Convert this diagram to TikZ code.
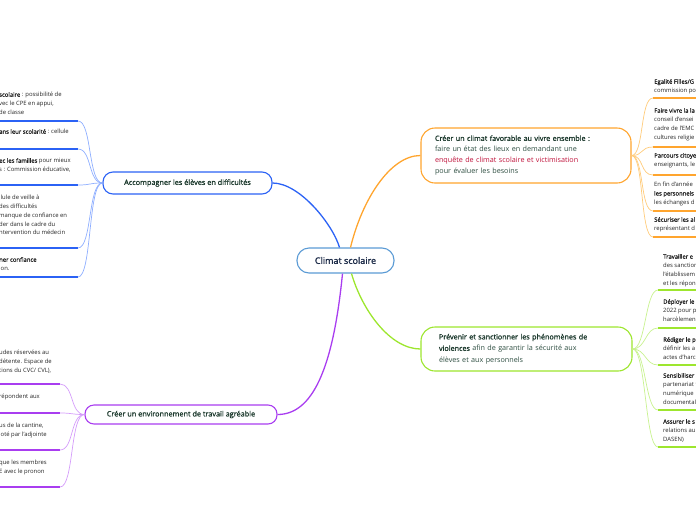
\documentclass[tikz,border=0pt]{standalone}
\usepackage{fontspec}
\setmainfont{Open Sans}
\newfontfamily\sbfont[FakeBold=1.3]{Open Sans}
\newcommand{\sbf}[1]{{\sbfont #1}}
\definecolor{cblue}{HTML}{2B62F5}
\definecolor{lblue}{HTML}{8EAEFF}
\definecolor{corange}{HTML}{FFA52E}
\definecolor{lorange}{HTML}{FFCB7A}
\definecolor{cgreen}{HTML}{9DE62E}
\definecolor{lgreen}{HTML}{C8F28F}
\definecolor{cpurple}{HTML}{A93DF0}
\definecolor{lpurple}{HTML}{D49CFA}
\definecolor{ccenter}{HTML}{5B9BD5}
\definecolor{ntext}{HTML}{1D3A2E}
\definecolor{ctext}{HTML}{1B2A47}
\definecolor{rtext}{HTML}{2F4F42}
\definecolor{crimson}{HTML}{C0143C}
\definecolor{leaftext}{HTML}{262626}
\begin{document}
\begin{tikzpicture}[x=1pt,y=-1pt,
  leaf/.style={anchor=north west, inner sep=0pt, align=left, text=leaftext,
    font=\fontsize{5.9}{8.8}\selectfont},
  topic/.style={draw, rounded corners=9pt, line width=1.1pt, fill=white, inner sep=0pt,
    text=ntext, font=\sbfont\fontsize{7.3}{11}\selectfont},
  branch/.style={line width=1.3pt},
  twig/.style={line width=0.7pt},
  uline/.style={line width=1.6pt}]
\useasboundingbox (0,0) rectangle (696,520);

% central and main topics
\node[topic, draw=ccenter, minimum width=97pt, minimum height=25pt, rounded corners=12pt,
  text=ctext, font=\sbfont\fontsize{9}{10}\selectfont] (c) at (345.5,260.5) {Climat scolaire};
\node[topic, draw=cblue, minimum width=169pt, minimum height=22pt, rounded corners=10pt] (b) at (187.5,183) {Accompagner les élèves en difficultés};
\node[topic, draw=cpurple, minimum width=192pt, minimum height=19pt] (p) at (181,414.5) {Créer un environnement de travail agréable};
\node[topic, draw=corange, minimum width=210pt, minimum height=55pt, rounded corners=14pt,
  text width=182pt, align=left, text=rtext, font=\fontsize{7.2}{11}\selectfont] (o) at (526,155.5)
  {\sbf{\color{ntext}Créer un climat favorable au vivre ensemble :}\\
   faire un état des lieux en demandant une\\
   {\color{crimson}enquête de climat scolaire et victimisation}\\
   pour évaluer les besoins};
\node[topic, draw=cgreen, minimum width=211pt, minimum height=44pt, rounded corners=14pt,
  text width=175pt, align=left, text=rtext, font=\fontsize{7.2}{11.5}\selectfont] (g) at (526.5,349)
  {\sbf{\color{ntext}Prévenir et sanctionner les phénomènes de}\\
   \sbf{\color{ntext}violences} afin de garantir la sécurité aux\\
   élèves et aux personnels};

% main branches
\draw[branch, cblue] (b.east) .. controls (300,183) and (333,225) .. ([xshift=-6pt]c.north);
\draw[branch, corange] ([xshift=5pt]c.north) .. controls (362,200) and (390,155.5) .. (o.west);
\draw[branch, cgreen] ([xshift=6pt]c.south) .. controls (362,310) and (390,349) .. (g.west);
\draw[branch, cpurple] ([xshift=-3pt]c.south) .. controls (333,370) and (312,414.5) .. (p.east);

% blue leaves (left)
\node[leaf] (lb1) at (-1,92) {\sbf{scolaire} : possibilité de\\vec le CPE en appui,\\de classe};
\node[leaf] (lb2) at (-1,129) {\sbf{ans leur scolarité} : cellule};
\node[leaf] (lb3) at (-1,158) {\sbf{ec les familles} pour mieux\\s : Commission éducative,};
\node[leaf] (lb4) at (-1,195) {llule de veille à\\ des difficultés\\manque de confiance en\\der dans le cadre du\\ntervention du médecin};
\node[leaf] (lb5) at (-1,257) {\sbf{ner confiance}\\ion.};
\foreach \i/\y in {1/121,2/149,3/185,4/248,5/277}{
  \coordinate (lb\i s) at (-2,\y);
  \coordinate (lb\i e) at (78,\y);
  \draw[uline, cblue] (lb\i s) -- (lb\i e);
  \draw[twig, lblue] (lb\i e) .. controls (92,\y) and (88,183) .. (b.west);
}

% purple leaves (left)
\node[leaf] (lp1) at (-1,350) {udes réservées au\\détente. Espace de\\tions du CVC/ CVL),};
\node[leaf] (lp2) at (-1,394) {répondent aux};
\node[leaf] (lp3) at (-1,423) {us de la cantine,\\loté par l'adjointe};
\node[leaf] (lp4) at (-1,460) {que les membres\\E avec le pronon};
\foreach \i/\y in {1/384,2/413,3/450,4/487}{
  \coordinate (lp\i s) at (-2,\y);
  \coordinate (lp\i e) at (60,\y);
  \draw[uline, cpurple] (lp\i s) -- (lp\i e);
  \draw[twig, lpurple] (lp\i e) .. controls (74,\y) and (70,414.5) .. (p.west);
}

% orange leaves (right)
\node[leaf] (lo1) at (654,79) {\sbf{Egalité Filles/G}\\commission po};
\node[leaf] (lo2) at (654,108) {\sbf{Faire vivre la la}\\conseil d'ensei\\cadre de l'EMC\\cultures religie};
\node[leaf] (lo3) at (654,153) {\sbf{Parcours citoye}\\enseignants, le};
\node[leaf] (lo4) at (654,182) {En fin d'année\\\sbf{les personnels}\\les échanges d};
\node[leaf] (lo5) at (654,217) {\sbf{Sécuriser les al}\\représentant d};
\foreach \i/\y in {1/98,2/147,3/175,4/211,5/237}{
  \coordinate (lo\i s) at (653,\y);
  \coordinate (lo\i e) at (698,\y);
  \draw[uline, corange] (lo\i s) -- (lo\i e);
  \draw[twig, lorange] (o.east) .. controls (644,155.5) and (640,\y) .. (lo\i s);
}

% green leaves (right)
\node[leaf] (lg1) at (663,254) {\sbf{Travailler e}\\des sanction\\l'établissem\\et les répon};
\node[leaf] (lg2) at (663,299) {\sbf{Déployer le}\\2022 pour p\\harcèlemen};
\node[leaf] (lg3) at (663,337) {\sbf{Rédiger le p}\\définir les a\\actes d'harc};
\node[leaf] (lg4) at (663,373) {\sbf{Sensibiliser}\\partenariat t\\numérique\\documental};
\node[leaf] (lg5) at (663,419) {\sbf{Assurer le s}\\relations au\\DASEN)};
\foreach \i/\y in {1/290,2/328,3/365,4/410,5/447}{
  \coordinate (lg\i s) at (658,\y);
  \coordinate (lg\i e) at (698,\y);
  \draw[uline, cgreen] (lg\i s) -- (lg\i e);
  \draw[twig, lgreen] (g.east) .. controls (646,349) and (645,\y) .. (lg\i s);
}
\end{tikzpicture}
\end{document}
